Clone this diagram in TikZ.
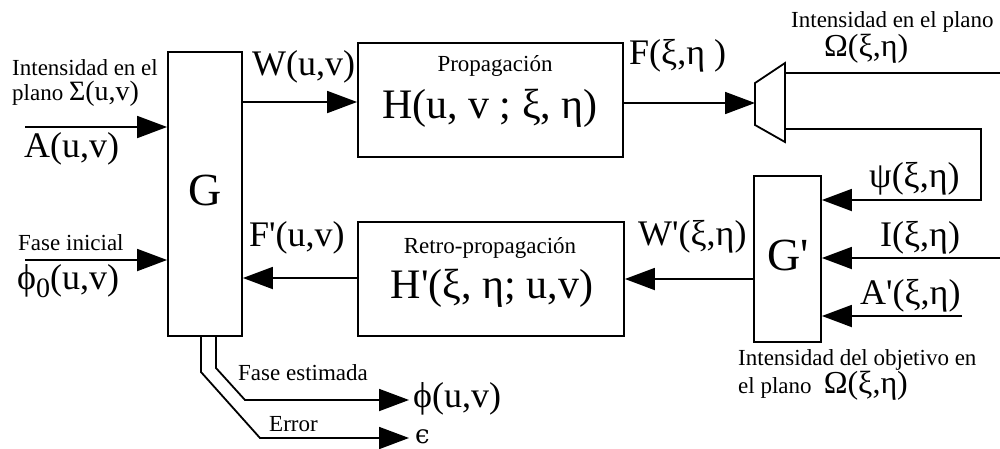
\documentclass[tikz,border=0pt]{standalone}
\usepackage{fontspec}
\setmainfont{Liberation Serif}
\newfontfamily\djs{DejaVu Serif}
\usetikzlibrary{arrows.meta}
\newcommand{\q}{\textquotesingle}
\tikzset{
  blk/.style={draw,line width=1.8pt,minimum width=#1,inner sep=0pt},
  ln/.style={line width=1.8pt},
  arr/.style={line width=1.8pt,-{Triangle[length=30pt,width=22pt]}},
  sm/.style={font=\fontsize{23}{26}\selectfont,inner sep=0pt},
  md/.style={font=\fontsize{36}{40}\selectfont,inner sep=0pt},
  lg/.style={font=\fontsize{42}{46}\selectfont,inner sep=0pt},
}
\begin{document}
\begin{tikzpicture}[x=1pt,y=-1pt]
\useasboundingbox (0,0) rectangle (1000,448);
% boxes
\node[blk=74pt,minimum height=284pt] (G) at (205,194) {};
\node[blk=265pt,minimum height=114pt] (H) at (490.5,100) {};
\node[blk=266pt,minimum height=114pt] (Hp) at (491,279) {};
\node[blk=67pt,minimum height=166pt] (Gp) at (787.5,259) {};
\node[font=\fontsize{46}{50}\selectfont] (Gt) at (205,190) {G};
\node[font=\fontsize{46}{50}\selectfont] (Gpt) at (788,255) {G\q};
\node[sm] (prop) at (495,66) {Propagación};
\node[lg] (Ht) at (490,108) {H(u, v ; ξ, η)};
\node[sm] (retro) at (490,248) {Retro-propagación};
\node[lg] (Hpt) at (492,288) {H\q(ξ, η; u,v)};
% trapezoid
\coordinate (t1) at (755,83);
\coordinate (t2) at (785,63);
\coordinate (t3) at (785,142);
\coordinate (t4) at (755,125);
\draw[ln,line join=miter] (t1) -- (t2) -- (t3) -- (t4) -- cycle;
\coordinate (trapL) at (755,103);
\coordinate (trapT) at (785,73);
\coordinate (trapB) at (785,129);
% coordinates of free ends
\coordinate (Ain) at (25,127);
\coordinate (Pin) at (25,260);
\coordinate (Oout) at (1000,73);
\coordinate (corner) at (981,129);
\coordinate (Iin) at (1000,258);
\coordinate (Apin) at (962,316);
\coordinate (phiend) at (409,400);
\coordinate (epsend) at (409,438);
% connectors
\draw[arr] (Ain) -- (Ain -| G.west);
\draw[arr] (Pin) -- (Pin -| G.west);
\draw[arr] (G.east |- 0,102) -- (H.west |- 0,102);
\draw[arr] (H.east |- trapL) -- (trapL);
\draw[ln] (trapT) -- (Oout);
\draw[arr] (trapB) -- (corner) -- (corner |- 0,200) -- (Gp.east |- 0,200);
\draw[arr] (Iin) -- (Iin -| Gp.east);
\draw[arr] (Apin) -- (Apin -| Gp.east);
\draw[arr] (Gp.west |- 0,279) -- (Hp.east |- 0,279);
\draw[arr] (Hp.west |- 0,278) -- (G.east |- 0,278);
\draw[arr] (G.south -| 216,0) -- (216,368) -- (245,400) -- (phiend);
\draw[arr] (G.south -| 201,0) -- (201,372) -- (260,438) -- (epsend);
% labels
\node[sm,anchor=west] (l1) at (12,68) {Intensidad en el};
\node[sm,anchor=west] (l2) at (12,94) {plano {\fontsize{28}{30}\selectfont Σ(u,v)}};
\node[md,anchor=west] (l3) at (24,149) {A(u,v)};
\node[sm,anchor=west] (l4) at (18,243) {Fase inicial};
\node[md,anchor=west] (l5) at (17,281) {ϕ\raisebox{-0.45ex}{\fontsize{28}{30}\selectfont 0}(u,v)};
\node[md,anchor=west] (l6) at (252,67) {W(u,v)};
\node[md,anchor=west] (l7) at (629,56) {F(ξ,η )};
\node[sm,anchor=west] (l8) at (791,22) {Intensidad en el plano};
\node[inner sep=0pt,anchor=west,font=\fontsize{32}{34}\selectfont] (l9) at (824,49) {Ω(ξ,η)};
\node[md,anchor=west] (l10) at (869,179) {ψ(ξ,η)};
\node[md,anchor=west] (l11) at (880,238) {I(ξ,η)};
\node[md,anchor=west] (l12) at (860,296) {A\q(ξ,η)};
\node[md,anchor=west] (l13) at (638,237) {W\q(ξ,η)};
\node[md,anchor=west] (l14) at (249,238) {F\q(u,v)};
\node[sm,anchor=west] (l15) at (738,360) {Intensidad del objetivo en};
\node[sm,anchor=west] (l16) at (738,386) {el plano \;{\fontsize{32}{34}\selectfont Ω(ξ,η)}};
\node[sm,anchor=west] (l17) at (238,373) {Fase estimada};
\node[sm,anchor=west] (l18) at (269,424) {Error};
\node[md,anchor=west] (l19) at (413,399) {ϕ(u,v)};
\node[anchor=west,inner sep=0pt,font=\djs\fontsize{26}{28}\selectfont] (l20) at (415,437) {ϵ};
\end{tikzpicture}
\end{document}
